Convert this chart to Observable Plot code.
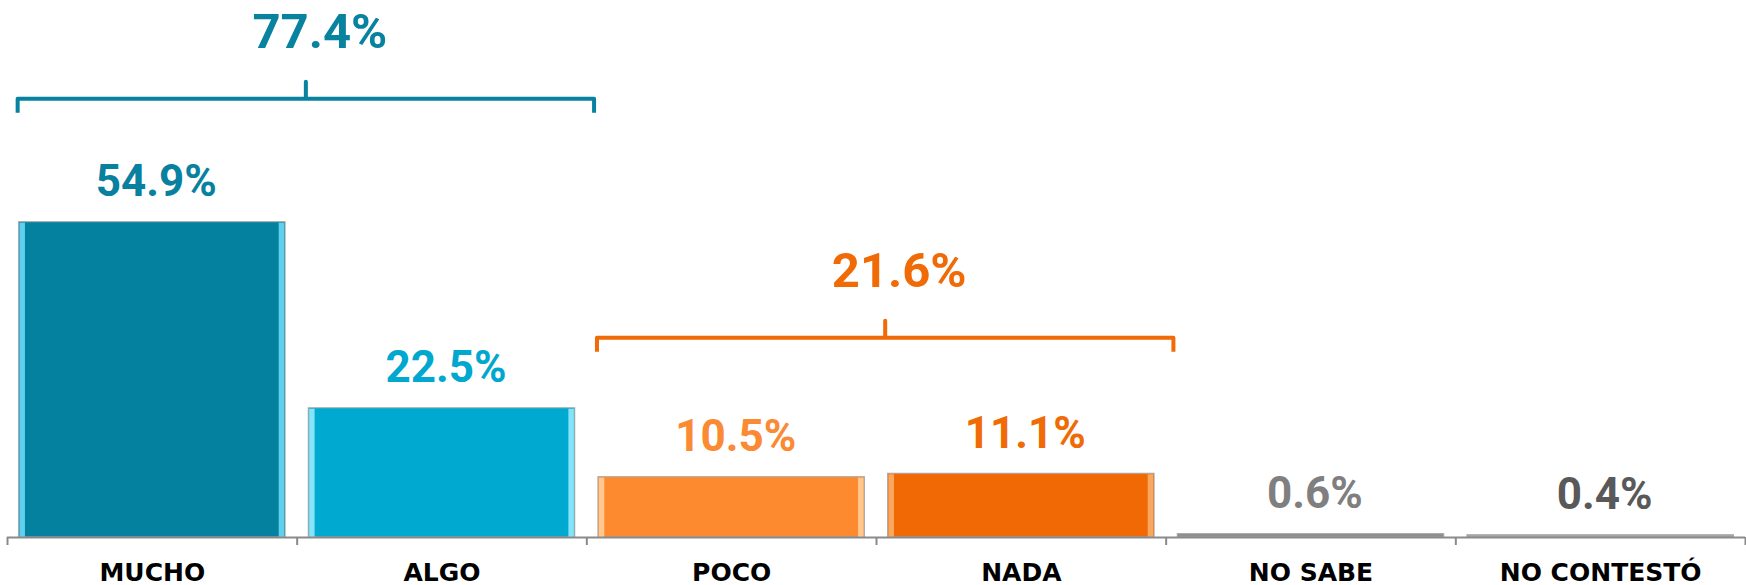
<!DOCTYPE html>
<html>
<head>
<meta charset="utf-8">
<script src="https://cdn.jsdelivr.net/npm/d3@7"></script>
<script src="https://cdn.jsdelivr.net/npm/@observablehq/plot@0.6"></script>
<style>
  html, body { margin: 0; padding: 0; background: #ffffff; }
  #chart svg { display: block; }
  #chart [aria-label^="x-axis"] line, #chart [aria-label^="x-axis"] path { stroke-width: 2px; }
</style>
</head>
<body>
<div id="chart"></div>
<script>
// ---- data ----
const categories = ["MUCHO", "ALGO", "POCO", "NADA", "NO SABE", "NO CONTESTÓ"];
const values = [54.9, 22.5, 10.5, 11.1, 0.6, 0.4];
const groupTotals = [77.4, 21.6];
const groupMembers = [["MUCHO", "ALGO"], ["POCO", "NADA"]];

// ---- styles ----
const barColors   = ["#03819f", "#00a9d0", "#fe8a30", "#f06905", "#8f8f8f", "#a5a5a5"];
const edgeColors  = ["#5fd0ee", "#86e3f8", "#ffc891", "#f9a862", "#b0b0b0", "#c0c0c0"];
const labelColors = ["#07819f", "#00a8cf", "#fa8a33", "#f06a05", "#7f7f7f", "#595959"];
const groupColors = ["#07829f", "#f06a05"];
const braceLevels = [76.4, 34.8];   // annotation heights (y units)
const font = "Roboto, 'Open Sans', sans-serif";
const catFont = "'DejaVu Sans', sans-serif";

const rows = categories.map((c, i) => ({c, i, v: values[i]}));
const half = 0.46, edge = 0.022;

const braceMarks = groupMembers.flatMap((members, g) => {
  const i0 = categories.indexOf(members[0]);
  const i1 = categories.indexOf(members[members.length - 1]);
  const L = i0 - 0.465, R = i1 + 0.525, C = (L + R) / 2, Y = braceLevels[g];
  const drop = 2.45, tip = 2.95;
  const pts = [[L, Y - drop], [L, Y], [C, Y], [C, Y + tip], [C, Y], [R, Y], [R, Y - drop]];
  return [
    Plot.line(pts, {x: d => d[0], y: d => d[1], stroke: groupColors[g], strokeWidth: 4,
      strokeLinejoin: "round", strokeLinecap: "butt"}),
    Plot.text([groupTotals[g]], {x: C, y: Y, text: d => d.toFixed(1) + "%", dy: -66, dx: 14,
      fill: groupColors[g], fontSize: 49, fontWeight: 700, fontFamily: font, lineAnchor: "middle"})
  ];
});

const chart = Plot.plot({
  width: 1746,
  height: 585,
  marginTop: 0,
  marginBottom: 48,
  marginLeft: 7,
  marginRight: 1,
  style: {background: "transparent", color: "#8a8a8a", fontFamily: font, overflow: "visible"},
  x: {domain: [-0.5, categories.length - 0.5],
      ticks: d3.range(categories.length + 1).map(k => k - 0.5),
      tickSize: 8, tickFormat: () => "", label: null},
  y: {domain: [0, 93.5], axis: null},
  color: {type: "identity"},
  marks: [
    Plot.rect(rows, {x1: d => d.i - half, x2: d => d.i + half, y1: 0, y2: "v",
      fill: d => barColors[d.i], stroke: "#a8a8a8", strokeWidth: 1}),
    Plot.rect(rows.filter(d => d.v > 2), {x1: d => d.i - half + 0.003, x2: d => d.i - half + edge, y1: 0, y2: "v",
      fill: d => edgeColors[d.i], insetTop: 1}),
    Plot.rect(rows.filter(d => d.v > 2), {x1: d => d.i + half - edge, x2: d => d.i + half - 0.003, y1: 0, y2: "v",
      fill: d => edgeColors[d.i], insetTop: 1}),
    Plot.ruleY([0], {stroke: "#8a8a8a", strokeWidth: 2}),
    Plot.text(rows, {x: "i", y: "v", text: d => d.v.toFixed(1) + "%", dy: -40, dx: 4,
      fill: d => labelColors[d.i], fontSize: 44, fontWeight: 700, fontFamily: font, lineAnchor: "middle"}),
    Plot.text(rows, {x: "i", y: 0, text: "c", dy: 35, fill: "#000000",
      fontSize: 25, fontWeight: 700, fontFamily: catFont, lineAnchor: "middle"}),
    ...braceMarks
  ]
});

document.getElementById("chart").appendChild(chart);
</script>
</body>
</html>
